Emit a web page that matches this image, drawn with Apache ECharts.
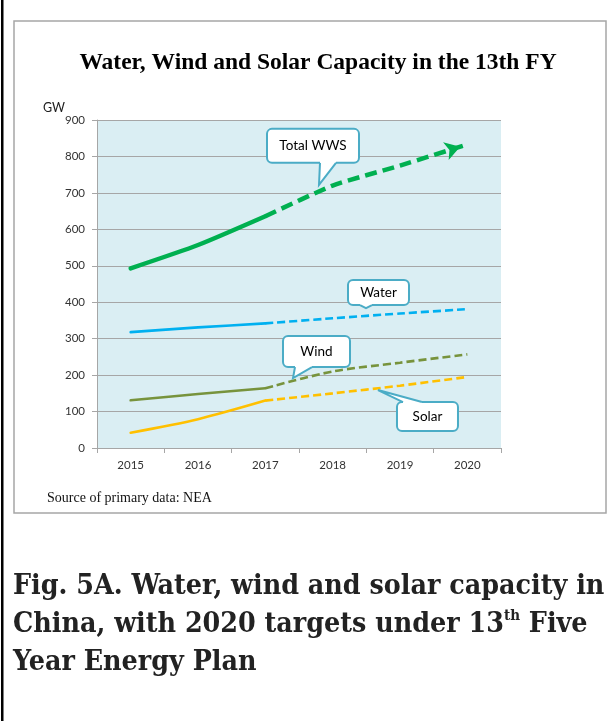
<!DOCTYPE html>
<html>
<head>
<meta charset="utf-8">
<script src="https://cdn.jsdelivr.net/npm/echarts@6/dist/echarts.min.js"></script>
<style>
html,body{margin:0;padding:0;background:#fff;}
#c{width:616px;height:721px;}
</style>
</head>
<body>
<div id="c"></div>
<script>
// ---- data ----
const years = ['2015', '2016', '2017', '2018', '2019', '2020'];
const totalWWS = [493, 557, 636, 720, 775, 833];
const water = [318, 331, 342, 356, 369, 381];
const wind = [131, 148, 164, 210, 234, 257];
const solar = [42, 79, 130, 150, 171, 195];
const lastActualIndex = 2; // 2017: actual up to here, targets after
const yTicks = [0, 900, 100]; // min, max, interval

const chartTitle = 'Water, Wind and Solar Capacity in the 13th FY';
const unitLabel = 'GW';
const sourceNote = 'Source of primary data: NEA';

// ---- styles ----
const COLORS = { total: '#00B050', water: '#00B0F0', wind: '#77933C', solar: '#FFC000' };
const AXIS_GRAY = '#a6a6a6';
const CALLOUT = '#4BACC6';

const chart = echarts.init(document.getElementById('c'), null, { renderer: 'canvas' });

function actualPart(arr) { return arr.map((v, i) => (i <= lastActualIndex ? v : null)); }
function targetPart(arr) { return arr.map((v, i) => (i >= lastActualIndex ? v : null)); }

function mkSeries(name, arr, color, width, dash, smooth) {
  return [
    {
      name: name, type: 'line', data: actualPart(arr), symbol: 'none', smooth: smooth,
      lineStyle: { color: color, width: width, type: 'solid', cap: 'round' }, z: 3
    },
    {
      name: name + ' target', type: 'line', data: targetPart(arr), symbol: 'none', smooth: smooth,
      lineStyle: { color: color, width: width, type: dash, cap: 'butt' }, z: 3
    }
  ];
}

const series = [].concat(
  mkSeries('Solar', solar, COLORS.solar, 2.6, [8, 4], 0.3),
  mkSeries('Wind', wind, COLORS.wind, 2.6, [8, 4], 0.3),
  mkSeries('Water', water, COLORS.water, 2.6, [8, 4], 0.2),
  mkSeries('Total WWS', totalWWS, COLORS.total, 4.5, [12, 6], 0.2)
);

const labelFont = 'Lato, "Open Sans", sans-serif';

const option = {
  animation: false,
  backgroundColor: '#ffffff',
  grid: { left: 97, top: 120, width: 404, height: 328, show: true, backgroundColor: '#DAEEF3', borderWidth: 0 },
  xAxis: {
    type: 'category', data: years, boundaryGap: true,
    axisLine: { show: true, lineStyle: { color: AXIS_GRAY, width: 1 } },
    axisTick: { show: true, length: 5, interval: 0, alignWithLabel: false, lineStyle: { color: AXIS_GRAY } },
    axisLabel: { margin: 11, color: '#333', fontSize: 11.5, fontFamily: labelFont },
    splitLine: { show: false }
  },
  yAxis: {
    type: 'value', min: yTicks[0], max: yTicks[1], interval: yTicks[2],
    name: unitLabel, nameLocation: 'end', nameGap: 6,
    nameTextStyle: { color: '#202020', fontSize: 12.5, fontFamily: labelFont, align: 'right', padding: [0, 32, 0, 0] },
    axisLine: { show: true, lineStyle: { color: AXIS_GRAY, width: 1 } },
    axisTick: { show: true, length: 5, lineStyle: { color: AXIS_GRAY } },
    axisLabel: { margin: 12, color: '#333', fontSize: 11.5, fontFamily: labelFont },
    splitLine: { show: true, lineStyle: { color: AXIS_GRAY, width: 1 } }
  },
  series: series
};
chart.setOption(option);

// ---- annotations anchored to data coordinates ----
function toPx(xi, v) {
  const n = years.length;
  const i0 = Math.max(0, Math.min(n - 1, Math.floor(xi)));
  const i1 = Math.min(i0 + 1, n - 1);
  const p0 = chart.convertToPixel({ gridIndex: 0 }, [i0, v]);
  const p1 = chart.convertToPixel({ gridIndex: 0 }, [i1, v]);
  const t = xi - i0;
  return [p0[0] + (p1[0] - p0[0]) * t, p0[1]];
}

// callouts: tip in data coords, box offset relative to tip (px)
const callouts = [
  { text: 'Total WWS', tip: [2.797, 722], dx: -52, dy: -56, w: 92, h: 34, side: 'bottom', b1: 53, b2: 69 },
  { text: 'Water', tip: [3.495, 384], dx: -18, dy: -28, w: 61, h: 25, side: 'bottom', b1: 12, b2: 24 },
  { text: 'Wind', tip: [2.411, 192], dx: -10, dy: -42, w: 67, h: 31, side: 'bottom', b1: 12, b2: 29 },
  { text: 'Solar', tip: [3.673, 159], dx: 19, dy: 12, w: 61, h: 29, side: 'top', b1: 6, b2: 25 }
];

const graphics = [];
// left page rule
graphics.push({ type: 'rect', shape: { x: 1, y: 0, width: 2.5, height: 721 }, style: { fill: '#000' }, z: 1 });
// chart frame
graphics.push({ type: 'rect', shape: { x: 14, y: 21, width: 592, height: 492 }, style: { fill: 'none', stroke: '#a6a6a6', lineWidth: 1.5 }, z: 1 });
// chart title
graphics.push({ type: 'text', x: 318, y: 63, style: { text: chartTitle, fill: '#000', font: 'bold 23.5px "Liberation Serif", "Times New Roman", serif', textAlign: 'center', textVerticalAlign: 'middle' }, z: 5 });
// source
graphics.push({ type: 'text', x: 47, y: 498, style: { text: sourceNote, fill: '#111', font: '14px "Liberation Serif", "Times New Roman", serif', textAlign: 'left', textVerticalAlign: 'middle' }, z: 5 });

callouts.forEach(c => {
  const tp = toPx(c.tip[0], c.tip[1]);
  const bx = tp[0] + c.dx, by = tp[1] + c.dy;
  const ey = c.side === 'bottom' ? by + c.h : by;
  const inward = c.side === 'bottom' ? -2 : 2;
  graphics.push({
    type: 'rect', z: 10,
    shape: { x: bx, y: by, width: c.w, height: c.h, r: 5 },
    style: { fill: '#fff', stroke: CALLOUT, lineWidth: 2 }
  });
  graphics.push({
    type: 'polygon', z: 11,
    shape: { points: [[bx + c.b1, ey + inward], [bx + c.b1, ey], tp, [bx + c.b2, ey], [bx + c.b2, ey + inward]] },
    style: { fill: '#fff', stroke: null }
  });
  graphics.push({
    type: 'polyline', z: 12,
    shape: { points: [[bx + c.b1, ey], tp, [bx + c.b2, ey]] },
    style: { fill: null, stroke: CALLOUT, lineWidth: 2, lineJoin: 'miter' }
  });
  graphics.push({
    type: 'text', z: 13, x: bx + c.w / 2, y: by + c.h / 2,
    style: { text: c.text, fill: '#000', font: '13.5px ' + labelFont, textAlign: 'center', textVerticalAlign: 'middle' }
  });
});

// caption under the chart
graphics.push({
  type: 'text', x: 13, y: 568, z: 5,
  style: {
    text: '{b|Fig. 5A. Water, wind and solar capacity in}\n{b|China, with 2020 targets under 13}{s|th}{b| Five}\n{b|Year Energy Plan}',
    textAlign: 'left', textVerticalAlign: 'top',
    rich: {
      b: { fontFamily: '"DejaVu Serif Condensed", "DejaVu Serif", serif', fontWeight: 'bold', fontSize: 28.3, lineHeight: 38, fill: '#222' },
      s: { fontFamily: '"DejaVu Serif Condensed", "DejaVu Serif", serif', fontWeight: 'bold', fontSize: 15, lineHeight: 38, verticalAlign: 'top', padding: [3, 0, 0, 0], fill: '#222' }
    }
  }
});

// arrow head at the end of the total target line, oriented along last segment
const n = years.length;
const pA = chart.convertToPixel({ gridIndex: 0 }, [n - 2, totalWWS[n - 2]]);
const pB = chart.convertToPixel({ gridIndex: 0 }, [n - 1, totalWWS[n - 1]]);
const theta = Math.atan2(-(pB[1] - pA[1]), pB[0] - pA[0]);
const arrowLen = 15;
const totalTarget = targetPart(totalWWS).map((v, i) => {
  if (i !== n - 1) return v;
  return {
    value: v, symbol: 'arrow', symbolSize: [14, arrowLen],
    symbolRotate: theta * 180 / Math.PI - 90,
    symbolOffset: [-Math.cos(theta) * arrowLen / 2, Math.sin(theta) * arrowLen / 2],
    itemStyle: { color: COLORS.total, borderWidth: 0 }
  };
});
const s = series.slice();
s[7] = Object.assign({}, s[7], { data: totalTarget, symbol: 'none', showSymbol: true, showAllSymbol: true });
chart.setOption({ series: s, graphic: graphics });
</script>
</body>
</html>
